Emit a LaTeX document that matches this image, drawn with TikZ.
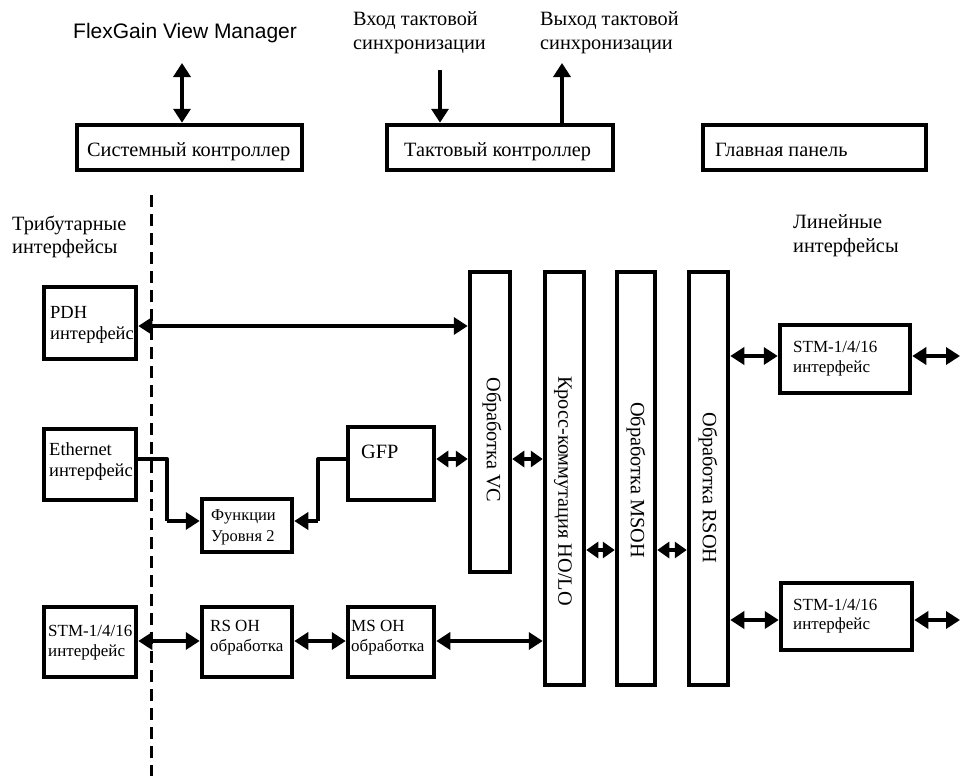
\documentclass[tikz,border=0pt]{standalone}
\usepackage{fontspec}
\setmainfont{Liberation Serif}
\newfontfamily\arialf{Liberation Sans}
\usetikzlibrary{arrows.meta}
\tikzset{
  blk/.style={draw, line width=4.5pt, rectangle, inner sep=0pt},
  lbl/.style={anchor=base west, inner sep=0pt, font=\fontsize{20.3}{24}\selectfont},
  lblm/.style={anchor=base west, inner sep=0pt, font=\fontsize{18.5}{22}\selectfont},
  lbls/.style={anchor=base west, inner sep=0pt, font=\fontsize{17}{20}\selectfont},
  lblf/.style={anchor=base west, inner sep=0pt, font=\fontsize{16.5}{20}\selectfont},
  vlbl/.style={rotate=-90, inner sep=0pt, font=\fontsize{20.3}{24}\selectfont},
  tipa/.tip={Triangle[length=14pt,width=17pt]},
  tipb/.tip={Triangle[length=12pt,width=16pt]},
  dbl/.style={line width=4pt, tipa-tipa},
  dbls/.style={line width=4pt, tipb-tipb},
  sgl/.style={line width=4pt, -tipa},
  wire/.style={line width=4pt, line join=round},
  divider/.style={line width=3pt, dash pattern=on 12pt off 7pt}
}
\begin{document}
\begin{tikzpicture}[x=1pt,y=-1pt]
\useasboundingbox (0,0) rectangle (960,776);

% top labels
\node[anchor=base west, inner sep=0pt, font=\arialf\fontsize{21}{25}\selectfont] (fvm) at (73,38) {FlexGain View Manager};
\node[lbl] (in1) at (353,26) {Вход тактовой};
\node[lbl] (in2) at (353,50) {синхронизации};
\node[lbl] (out1) at (540,26) {Выход тактовой};
\node[lbl] (out2) at (540,50) {синхронизации};

% top boxes
\node[blk, minimum width=225pt, minimum height=45pt] (sys) at (189.5,147.5) {};
\node[lbl] (syst) at (87,156) {Системный контроллер};
\node[blk, minimum width=226pt, minimum height=45pt] (clk) at (500,147.5) {};
\node[lbl] (clkt) at (404,156) {Тактовый контроллер};
\node[blk, minimum width=223pt, minimum height=45pt] (mainp) at (814.5,147.5) {};
\node[lbl] (maint) at (715,156) {Главная панель};

\coordinate (fvmtop) at (182,63);
\coordinate (intop) at (440,70);
\coordinate (outtop) at (562,63);
\draw[dbl] (fvmtop) -- (fvmtop |- sys.north);
\draw[sgl] (intop) -- (intop |- clk.north);
\draw[sgl] (outtop |- clk.north) -- (outtop);

% side labels
\node[lbl] (trib1) at (12,230) {Трибутарные};
\node[lbl] (trib2) at (12,253) {интерфейсы};
\node[lbl] (lin1) at (793,228) {Линейные};
\node[lbl] (lin2) at (793,252) {интерфейсы};

% dashed divider
\coordinate (dtop) at (151,195);
\coordinate (dbot) at (151,776);
\draw[divider] (dtop) -- (dbot);

% left boxes
\node[blk, minimum width=92pt, minimum height=72pt] (pdh) at (90,323) {};
\node[lblm] (pdht1) at (50,318) {PDH};
\node[lblm] (pdht2) at (50,339) {интерфейс};
\node[blk, minimum width=92pt, minimum height=71pt] (eth) at (90,464.5) {};
\node[lblm] (etht1) at (49,455) {Ethernet};
\node[lblm] (etht2) at (49,476) {интерфейс};
\node[blk, minimum width=92pt, minimum height=70pt] (stml) at (90,642) {};
\node[lbls] (stmlt1) at (48,636) {STM-1/4/16};
\node[lbls] (stmlt2) at (48,656) {интерфейс};

% middle boxes
\node[blk, minimum width=90pt, minimum height=53pt] (func) at (247,525.5) {};
\node[lblf] (funct1) at (211,520) {Функции};
\node[lblf] (funct2) at (211,541) {Уровня 2};
\node[blk, minimum width=86pt, minimum height=73pt] (gfp) at (391,463.5) {};
\node[lbl] (gfpt) at (361,458) {GFP};
\node[blk, minimum width=90pt, minimum height=70pt] (rsb) at (247,642) {};
\node[lbls] (rsbt1) at (210,631) {RS OH};
\node[lbls] (rsbt2) at (210,651) {обработка};
\node[blk, minimum width=86pt, minimum height=70pt] (msb) at (391,642) {};
\node[lbls] (msbt1) at (351,631) {MS OH};
\node[lbls] (msbt2) at (351,651) {обработка};

% vertical bars
\node[blk, minimum width=40pt, minimum height=300pt] (vc) at (490,422) {};
\node[vlbl] (vct) at (492,440) {Обработка VC};
\node[blk, minimum width=39pt, minimum height=413pt] (xc) at (564.5,478.5) {};
\node[vlbl] (xct) at (563,491) {Кросс-коммутация HO/LO};
\node[blk, minimum width=38pt, minimum height=413pt] (mso) at (636,478.5) {};
\node[vlbl] (msot) at (636,480) {Обработка MSOH};
\node[blk, minimum width=39pt, minimum height=413pt] (rso) at (708.5,478.5) {};
\node[vlbl] (rsot) at (708,488) {Обработка RSOH};

% right boxes
\node[blk, minimum width=130pt, minimum height=68pt] (stm1) at (845,359) {};
\node[lbls] (stm1t1) at (793,352) {STM-1/4/16};
\node[lbls] (stm1t2) at (793,372) {интерфейс};
\node[blk, minimum width=131pt, minimum height=67pt] (stm2) at (846.5,616.5) {};
\node[lbls] (stm2t1) at (793,610) {STM-1/4/16};
\node[lbls] (stm2t2) at (793,629) {интерфейс};

% row coordinates
\coordinate (r1) at (0,326);
\coordinate (r2) at (0,459);
\coordinate (r3) at (0,521);
\coordinate (r4) at (0,550);
\coordinate (r5) at (0,641);
\coordinate (r6) at (0,356);
\coordinate (r7) at (0,620);
\coordinate (k1) at (167,0);
\coordinate (k2) at (318,0);
\coordinate (edge1) at (960,356);
\coordinate (edge2) at (960,620);

% connectors
\draw[dbl] (pdh.east |- r1) -- (vc.west |- r1);
\draw[wire] (eth.east |- r2) -- (k1 |- r2) -- (k1 |- r3);
\draw[sgl] (k1 |- r3) -- (func.west |- r3);
\draw[wire] (gfp.west |- r2) -- (k2 |- r2) -- (k2 |- r3);
\draw[sgl] (k2 |- r3) -- (func.east |- r3);
\draw[dbls] (gfp.east |- r2) -- (vc.west |- r2);
\draw[dbls] (vc.east |- r2) -- (xc.west |- r2);
\draw[dbls] (xc.east |- r4) -- (mso.west |- r4);
\draw[dbls] (mso.east |- r4) -- (rso.west |- r4);
\draw[dbl] (stml.east |- r5) -- (rsb.west |- r5);
\draw[dbl] (rsb.east |- r5) -- (msb.west |- r5);
\draw[dbl] (msb.east |- r5) -- (xc.west |- r5);
\draw[dbl] (rso.east |- r6) -- (stm1.west |- r6);
\draw[dbl] (stm1.east |- r6) -- (edge1);
\draw[dbl] (rso.east |- r7) -- (stm2.west |- r7);
\draw[dbl] (stm2.east |- r7) -- (edge2);
\end{tikzpicture}
\end{document}
